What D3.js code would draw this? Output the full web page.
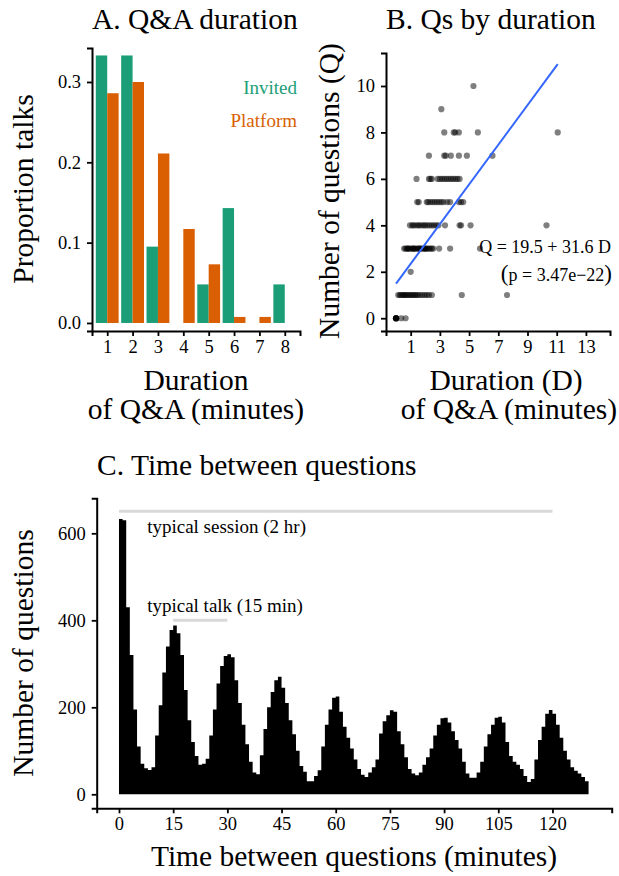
<!DOCTYPE html>
<html>
<head>
<meta charset="utf-8">
<script src="https://cdn.jsdelivr.net/npm/d3@7/dist/d3.min.js"></script>
<style>
  body { margin: 0; background: #fff; }
  text { font-family: "Liberation Serif", "Times New Roman", serif; fill: #000; }
</style>
</head>
<body>
<script>
// ---- A. Q&A duration ----
var durationMinutes = [1, 2, 3, 4, 5, 6, 7, 8];
var invitedProp = [0.333, 0.333, 0.095, 0, 0.048, 0.143, 0, 0.048];
var platformProp = [0.286, 0.300, 0.211, 0.117, 0.073, 0.0075, 0.0075, 0];
var groupNames = ['Invited', 'Platform'];
var groupColors = ['#1b9e77', '#d95f02'];
var propTicks = [0, 0.1, 0.2, 0.3];

// ---- B. Qs by duration (durations listed per number of questions 0..10) ----
var durationsByQ = [
  [0, 0, 0, 0, 0, 0, 0.35, 0.65],
  [0.15, 0.25, 0.35, 0.45, 0.55, 0.6, 0.7, 0.8, 0.9, 1.0, 1.1, 1.2, 1.3, 1.4, 1.5, 1.65, 1.8, 1.95, 2.1, 2.25, 2.45, 4.5, 7.6],
  [1.0],
  [0.55, 0.65, 0.75, 0.8, 0.85, 0.95, 1.05, 1.15, 1.2, 1.25, 1.35, 1.45, 1.55, 1.6, 1.65, 1.75, 1.85, 1.95, 2.0, 2.05, 2.15, 2.25, 2.35, 2.45, 2.55, 2.95, 3.7, 5.75],
  [0.95, 1.1, 1.2, 1.35, 1.5, 1.6, 1.75, 1.9, 2.0, 2.15, 2.3, 2.45, 2.6, 2.75, 2.9, 3.35, 4.35, 4.45, 5.1, 10.3],
  [1.45, 1.55, 2.1, 2.2, 2.35, 2.5, 2.65, 2.8, 2.95, 3.1, 3.25, 3.5, 3.7, 4.3, 4.45, 4.6],
  [1.4, 2.25, 2.35, 2.45, 2.85, 3.0, 3.15, 3.3, 3.45, 3.6, 3.75, 3.9, 4.05, 4.2, 4.35],
  [2.25, 3.3, 3.4, 3.75, 4.3, 4.85, 6.6],
  [3.3, 3.95, 4.05, 4.3, 5.6, 11.07],
  [3.1],
  [5.3]
];
var fitIntercept = 1.49;
var fitSlope = 0.854;
var fitText = ['Q = 19.5 + 31.6 D', 'p = 3.47e\u221222'];
var durTicks = [1, 3, 5, 7, 9, 11, 13];
var qTicks = [0, 2, 4, 6, 8, 10];

// ---- C. Time between questions (1-minute bins from 0) ----
var gapCounts = [
  633, 630, 430, 320, 195, 110, 70, 60, 56, 62,
  135, 205, 280, 340, 378, 388, 370, 320, 240, 170,
  120, 88, 68, 70, 82, 135, 195, 255, 295, 318,
  322, 315, 262, 210, 160, 115, 75, 50, 46, 90,
  150, 200, 235, 262, 270, 245, 210, 170, 138, 100,
  65, 52, 30, 30, 42, 55, 110, 160, 195, 222,
  225, 190, 155, 130, 105, 80, 58, 45, 40, 50,
  62, 80, 140, 168, 182, 193, 190, 145, 115, 85,
  58, 48, 44, 50, 68, 85, 105, 135, 160, 175,
  176, 165, 145, 125, 105, 75, 48, 38, 38, 50,
  75, 110, 138, 160, 176, 178, 165, 120, 88, 75,
  68, 58, 42, 28, 35, 80, 125, 155, 185, 194,
  185, 160, 130, 100, 80, 62, 54, 48, 40, 30
];
var gapTicks = [0, 15, 30, 45, 60, 75, 90, 105, 120];
var countTicks = [0, 200, 400, 600];
var refLabels = ['typical session (2 hr)', 'typical talk (15 min)'];
var refFrom = [0, 15];
var refTo = [120, 30];
var refLevel = [651, 400];
var refLabelAt = [7.8, 7.8];
var refLabelLevel = [601, 420];

var svg = d3.select('body').append('svg')
  .attr('width', 619)
  .attr('height', 876);

var tickFont = '18.5px';
var titleFont = '29.5px';

function styleAxis (g) {
  g.attr('font-family', null).attr('font-size', null);
  g.select('.domain').attr('stroke', '#000').attr('stroke-width', 2);
  g.selectAll('.tick line').attr('stroke', '#000').attr('stroke-width', 1.8);
  g.selectAll('.tick text').style('font-size', tickFont).attr('fill', '#000');
}

function yLabel (x, y, txt) {
  svg.append('text')
    .attr('transform', 'translate(' + x + ',' + y + ') rotate(-90)')
    .attr('text-anchor', 'middle')
    .style('font-size', titleFont)
    .text(txt);
}

// ================= Panel A =================
var xA = d3.scaleLinear().domain([0.4, 8.6]).range([92, 300]);
var yA = d3.scaleLinear().domain([-0.01, 0.3423]).range([331, 48]);
var gA = svg.append('g');

var barW = 0.45;
gA.selectAll('rect.inv')
  .data(invitedProp)
  .enter().append('rect')
    .attr('class', 'inv')
    .attr('x', function (d, i) { return xA(durationMinutes[i] - barW); })
    .attr('width', xA(barW) - xA(0))
    .attr('y', function (d) { return yA(d); })
    .attr('height', function (d) { return yA(0) - yA(d); })
    .attr('fill', groupColors[0]);

gA.selectAll('rect.plat')
  .data(platformProp)
  .enter().append('rect')
    .attr('class', 'plat')
    .attr('x', function (d, i) { return xA(durationMinutes[i]); })
    .attr('width', xA(barW) - xA(0))
    .attr('y', function (d) { return yA(d); })
    .attr('height', function (d) { return yA(0) - yA(d); })
    .attr('fill', groupColors[1]);

gA.append('g')
  .attr('transform', 'translate(0,331)')
  .call(d3.axisBottom(xA).tickValues(durationMinutes).tickSizeOuter(0).tickSize(5).tickPadding(4).tickFormat(d3.format('d')))
  .call(styleAxis);
gA.append('g')
  .attr('transform', 'translate(92,0)')
  .call(d3.axisLeft(yA).tickValues(propTicks).tickSizeOuter(0).tickSize(5).tickPadding(6).tickFormat(d3.format('.1f')))
  .call(styleAxis);

groupNames.forEach(function (name, i) {
  gA.append('text')
    .attr('x', 297)
    .attr('y', 94 + i * 33)
    .attr('text-anchor', 'end')
    .style('font-size', '19px')
    .style('fill', groupColors[i])
    .text(name);
});

svg.append('text').attr('x', 92).attr('y', 29).style('font-size', titleFont).text('A. Q&A duration');
yLabel(33, 189, 'Proportion talks');
svg.append('text').attr('x', 196).attr('y', 390).attr('text-anchor', 'middle').style('font-size', titleFont).text('Duration');
svg.append('text').attr('x', 196).attr('y', 419).attr('text-anchor', 'middle').style('font-size', titleFont).text('of Q&A (minutes)');

// ================= Panel B =================
var xB = d3.scaleLinear().domain([-0.69, 14.65]).range([386, 610]);
var yB = d3.scaleLinear().domain([-0.55, 11.42]).range([331, 53]);
var gB = svg.append('g');

var pts = [];
durationsByQ.forEach(function (row, q) {
  row.forEach(function (d) { pts.push({ d: d, q: q }); });
});

gB.selectAll('circle')
  .data(pts)
  .enter().append('circle')
    .attr('cx', function (p) { return xB(p.d); })
    .attr('cy', function (p) { return yB(p.q); })
    .attr('r', 3.1)
    .attr('fill', '#000')
    .attr('fill-opacity', 0.5);

var dExt = d3.extent(pts, function (p) { return p.d; });
gB.append('line')
  .attr('x1', xB(dExt[0])).attr('y1', yB(fitIntercept + fitSlope * dExt[0]))
  .attr('x2', xB(dExt[1])).attr('y2', yB(fitIntercept + fitSlope * dExt[1]))
  .attr('stroke', '#3366ff')
  .attr('stroke-width', 2);

gB.append('g')
  .attr('transform', 'translate(0,331)')
  .call(d3.axisBottom(xB).tickValues(durTicks).tickSizeOuter(0).tickSize(5).tickPadding(4).tickFormat(d3.format('d')))
  .call(styleAxis);
gB.append('g')
  .attr('transform', 'translate(386,0)')
  .call(d3.axisLeft(yB).tickValues(qTicks).tickSizeOuter(0).tickSize(5).tickPadding(6).tickFormat(d3.format('d')))
  .call(styleAxis);

gB.append('text')
  .attr('x', 611).attr('y', 253)
  .attr('text-anchor', 'end')
  .style('font-size', '18px')
  .text(fitText[0]);
var pLine = gB.append('text')
  .attr('x', 612).attr('y', 281)
  .attr('text-anchor', 'end')
  .style('font-size', '18px');
pLine.append('tspan').style('font-size', '23px').text('(');
pLine.append('tspan').text(fitText[1]);
pLine.append('tspan').style('font-size', '23px').text(')');

svg.append('text').attr('x', 386).attr('y', 29).style('font-size', titleFont).text('B. Qs by duration');
yLabel(339, 191, 'Number of questions (Q)');
svg.append('text').attr('x', 506).attr('y', 390).attr('text-anchor', 'middle').style('font-size', titleFont).text('Duration (D)');
svg.append('text').attr('x', 509).attr('y', 419).attr('text-anchor', 'middle').style('font-size', titleFont).text('of Q&A (minutes)');

// ================= Panel C =================
var xC = d3.scaleLinear().domain([-6.17, 136.4]).range([96.7, 611.7]);
var yC = d3.scaleLinear().domain([-32.2, 680.5]).range([808.3, 498.3]);
var gC = svg.append('g');

// histogram drawn as one stepped area so neighbouring bins do not show seams
var steps = gapCounts.map(function (c, i) { return [i, c]; });
steps.push([gapCounts.length, gapCounts[gapCounts.length - 1]]);
var histArea = d3.area()
  .x(function (d) { return xC(d[0]); })
  .y0(yC(0))
  .y1(function (d) { return yC(d[1]); })
  .curve(d3.curveStepAfter);
gC.append('path')
  .datum(steps)
  .attr('d', histArea)
  .attr('fill', '#000');

refLabels.forEach(function (lab, i) {
  gC.append('line')
    .attr('x1', xC(refFrom[i])).attr('x2', xC(refTo[i]))
    .attr('y1', yC(refLevel[i])).attr('y2', yC(refLevel[i]))
    .attr('stroke', '#d9d9d9')
    .attr('stroke-width', 3);
  gC.append('text')
    .attr('x', xC(refLabelAt[i]))
    .attr('y', yC(refLabelLevel[i]))
    .style('font-size', '19px')
    .text(lab);
});

gC.append('g')
  .attr('transform', 'translate(0,808.3)')
  .call(d3.axisBottom(xC).tickValues(gapTicks).tickSizeOuter(0).tickSize(5).tickPadding(4).tickFormat(d3.format('d')))
  .call(styleAxis);
gC.append('g')
  .attr('transform', 'translate(96.7,0)')
  .call(d3.axisLeft(yC).tickValues(countTicks).tickSizeOuter(0).tickSize(5).tickPadding(6).tickFormat(d3.format('d')))
  .call(styleAxis);

svg.append('text').attr('x', 97).attr('y', 475).style('font-size', titleFont).text('C. Time between questions');
yLabel(33, 653, 'Number of questions');
svg.append('text').attr('x', 354).attr('y', 866).attr('text-anchor', 'middle').style('font-size', titleFont).text('Time between questions (minutes)');
</script>
</body>
</html>
